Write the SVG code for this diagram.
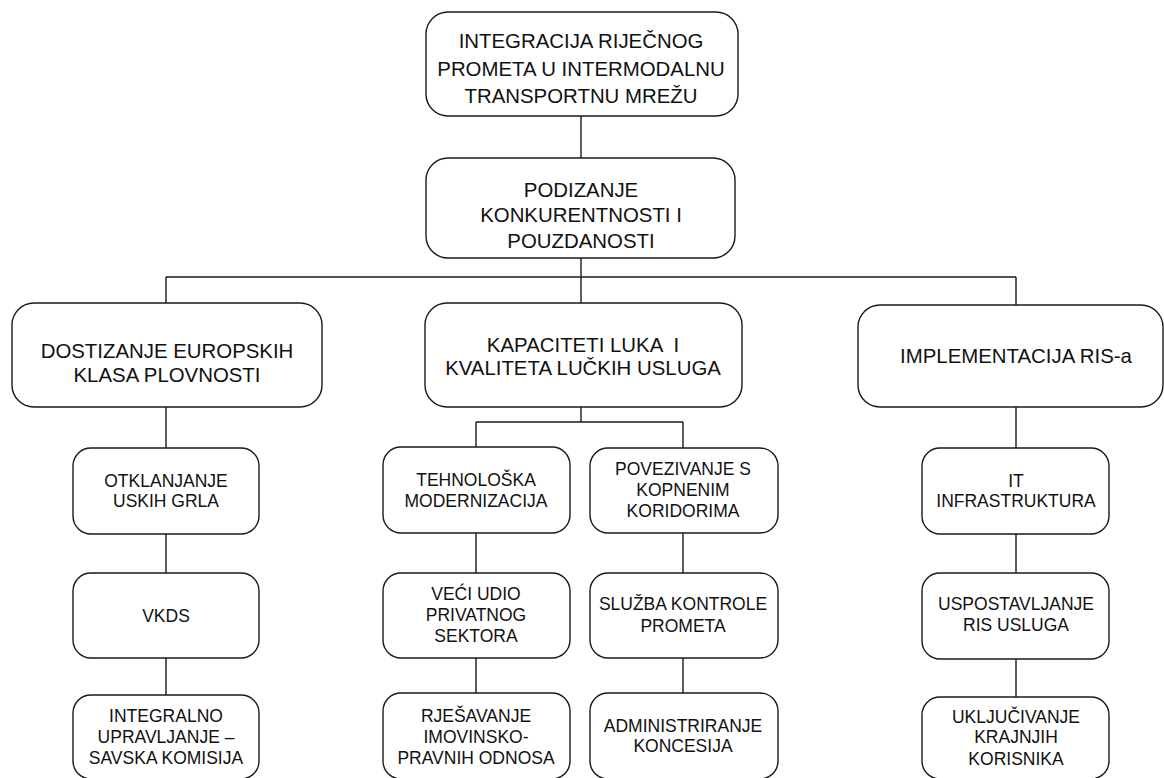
<svg xmlns="http://www.w3.org/2000/svg" width="1164" height="778" viewBox="0 0 1164 778">
<style>
.box{fill:#fff;stroke:#1a1a1a;stroke-width:1.4}
.ln{stroke:#1a1a1a;stroke-width:1.4;fill:none}
text{font-family:"Liberation Sans",Arial,sans-serif;fill:#111;text-anchor:middle}
.t20{font-size:20.4px}
.t17{font-size:17.5px}
</style>
<rect width="1164" height="778" fill="#fff"/>
<g id="connectors" class="ln">
<path d="M581 116V158M581 258V303M166 277H1016M166 277V303M1016 277V305"/>
<path d="M166 407V448M166 534V573M166 658V695"/>
<path d="M581 407V422M476 422H683M476 422V447M683 422V448"/>
<path d="M476 533V573M476 658V693M683 533V573M683 658V693"/>
<path d="M1016 407V448M1016 534V573M1016 659V697"/>
</g>
<g id="n_top"><rect class="box" x="426" y="12" width="312" height="104" rx="22"/>
<text class="t20" x="581" y="48">INTEGRACIJA RIJEČNOG</text>
<text class="t20" x="581" y="76">PROMETA U INTERMODALNU</text>
<text class="t20" x="581" y="103">TRANSPORTNU MREŽU</text></g>
<g id="n_podizanje"><rect class="box" x="426" y="158" width="309" height="100" rx="22"/>
<text class="t20" x="581" y="197">PODIZANJE</text>
<text class="t20" x="581" y="222">KONKURENTNOSTI I</text>
<text class="t20" x="581" y="248">POUZDANOSTI</text></g>
<g id="n_dostizanje"><rect class="box" x="12" y="303" width="310" height="104" rx="22"/>
<text class="t20" x="167" y="358">DOSTIZANJE EUROPSKIH</text>
<text class="t20" x="167" y="382">KLASA PLOVNOSTI</text></g>
<g id="n_kapaciteti"><rect class="box" x="425" y="303" width="317" height="104" rx="22"/>
<text class="t20" x="583" y="352" xml:space="preserve">KAPACITETI LUKA  I</text>
<text class="t20" x="583" y="375">KVALITETA LUČKIH USLUGA</text></g>
<g id="n_ris"><rect class="box" x="858" y="305" width="305" height="102" rx="22"/>
<text class="t20" x="1016" y="363">IMPLEMENTACIJA RIS-a</text></g>
<g id="n_otklanjanje"><rect class="box" x="73" y="448" width="186" height="86" rx="18"/>
<text class="t17" x="166" y="487">OTKLANJANJE</text>
<text class="t17" x="166" y="507">USKIH GRLA</text></g>
<g id="n_vkds"><rect class="box" x="73" y="573" width="186" height="85" rx="18"/>
<text class="t17" x="166" y="622">VKDS</text></g>
<g id="n_integralno"><rect class="box" x="73" y="695" width="186" height="84" rx="18"/>
<text class="t17" x="166" y="722">INTEGRALNO</text>
<text class="t17" x="166" y="743">UPRAVLJANJE –</text>
<text class="t17" x="166" y="764">SAVSKA KOMISIJA</text></g>
<g id="n_tehnoloska"><rect class="box" x="383" y="447" width="187" height="86" rx="18"/>
<text class="t17" x="476" y="486">TEHNOLOŠKA</text>
<text class="t17" x="476" y="507">MODERNIZACIJA</text></g>
<g id="n_veci"><rect class="box" x="383" y="573" width="187" height="85" rx="18"/>
<text class="t17" x="476" y="600">VEĆI UDIO</text>
<text class="t17" x="476" y="621">PRIVATNOG</text>
<text class="t17" x="476" y="642">SEKTORA</text></g>
<g id="n_rjesavanje"><rect class="box" x="383" y="693" width="187" height="86" rx="18"/>
<text class="t17" x="476" y="722">RJEŠAVANJE</text>
<text class="t17" x="476" y="743">IMOVINSKO-</text>
<text class="t17" x="476" y="764">PRAVNIH ODNOSA</text></g>
<g id="n_povezivanje"><rect class="box" x="590" y="448" width="188" height="85" rx="18"/>
<text class="t17" x="683" y="475">POVEZIVANJE S</text>
<text class="t17" x="683" y="496">KOPNENIM</text>
<text class="t17" x="683" y="517">KORIDORIMA</text></g>
<g id="n_sluzba"><rect class="box" x="590" y="573" width="188" height="85" rx="18"/>
<text class="t17" x="683" y="610">SLUŽBA KONTROLE</text>
<text class="t17" x="683" y="632">PROMETA</text></g>
<g id="n_administriranje"><rect class="box" x="590" y="693" width="188" height="86" rx="18"/>
<text class="t17" x="683" y="732">ADMINISTRIRANJE</text>
<text class="t17" x="683" y="752">KONCESIJA</text></g>
<g id="n_it"><rect class="box" x="922" y="448" width="187" height="86" rx="18"/>
<text class="t17" x="1016" y="487">IT</text>
<text class="t17" x="1016" y="507">INFRASTRUKTURA</text></g>
<g id="n_uspostavljanje"><rect class="box" x="922" y="573" width="187" height="86" rx="18"/>
<text class="t17" x="1016" y="610">USPOSTAVLJANJE</text>
<text class="t17" x="1016" y="631">RIS USLUGA</text></g>
<g id="n_ukljucivanje"><rect class="box" x="922" y="697" width="187" height="82" rx="18"/>
<text class="t17" x="1016" y="723">UKLJUČIVANJE</text>
<text class="t17" x="1016" y="743">KRAJNJIH</text>
<text class="t17" x="1016" y="765">KORISNIKA</text></g>
</svg>
